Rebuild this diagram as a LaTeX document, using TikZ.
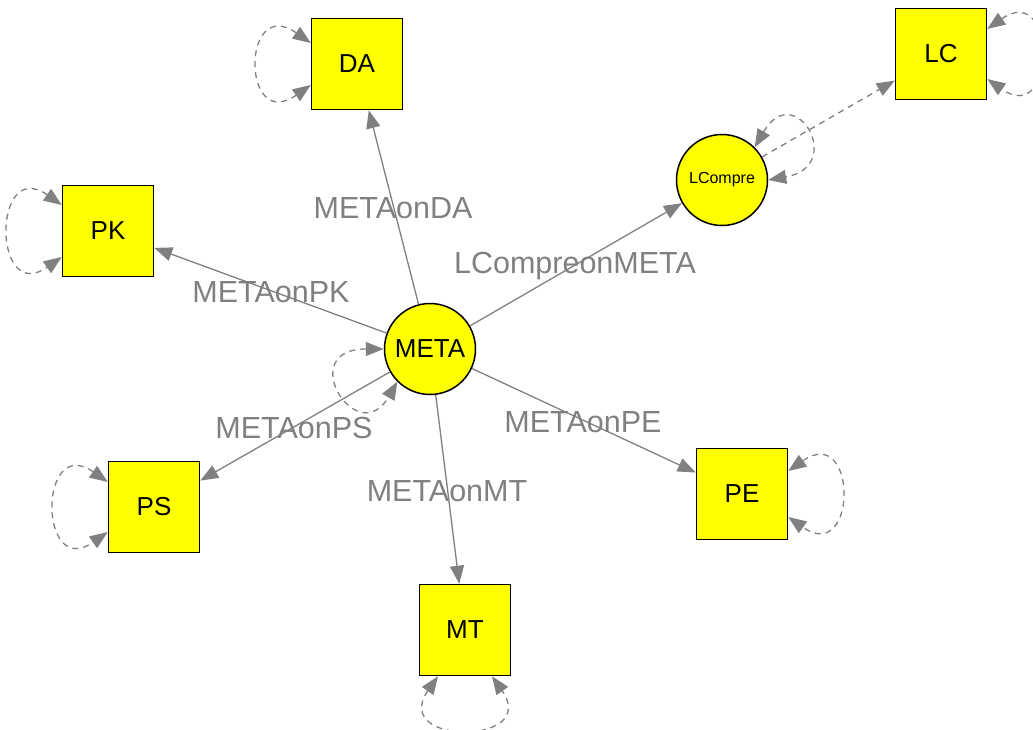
\documentclass[tikz,border=0pt]{standalone}
\usepackage{fontspec}
\setmainfont{Liberation Sans}
\usetikzlibrary{arrows.meta}
\definecolor{edgegray}{RGB}{128,128,128}
\definecolor{nodeyellow}{RGB}{255,255,0}
\begin{document}
\begin{tikzpicture}[x=1pt, y=-1pt, >={Triangle[length=18pt,width=14pt]},
    box/.style={draw, line width=1.5pt, fill=nodeyellow, minimum size=91pt, inner sep=0pt, font=\fontsize{26}{30}\selectfont},
    ball/.style={draw, circle, line width=1.5pt, fill=nodeyellow, minimum size=91pt, inner sep=0pt, font=\fontsize{26}{30}\selectfont},
    lbl/.style={anchor=base, inner sep=0pt, text=edgegray, font=\fontsize{30.5}{34}\selectfont},
    link/.style={->, draw=edgegray, line width=1.3pt},
    selfloop/.style={<->, draw=edgegray, line width=1.3pt, dash pattern=on 6pt off 5pt}]
          \useasboundingbox (0,0) rectangle (1033,729);
          \node [ball] (META) at (430,349) {META};
          \node [ball, font=\fontsize{16}{19}\selectfont] (LCompre) at (722,180) {LCompre};
          \node [box] (DA) at (357,64) {DA};
          \node [box] (LC) at (941,54) {LC};
          \node [box] (PK) at (108,231) {PK};
          \node [box] (PS) at (154,507) {PS};
          \node [box] (PE) at (742,494) {PE};
          \node [box] (MT) at (465,630) {MT};
          \draw [link] (META) -- (DA);
          \draw [link] (META) -- (PK);
          \draw [link] (META) -- (PS);
          \draw [link] (META) -- (MT);
          \draw [link] (META) -- (PE);
          \draw [link] (META) -- (LCompre);
          \draw [link, dash pattern=on 6pt off 5pt] (LCompre) -- (LC);
          \node [lbl] (lDA) at (393,218) {METAonDA};
          \node [lbl] (lPK) at (271,302) {METAonPK};
          \node [lbl] (lPS) at (294,438) {METAonPS};
          \node [lbl] (lMT) at (447,501) {METAonMT};
          \node [lbl] (lPE) at (583,432) {METAonPE};
          \node [lbl] (lLCompre) at (575,273) {LCompreonMETA};
          % self loops
          \draw [selfloop] ([yshift=21pt]DA.west) .. controls +(145:85pt) and +(215:85pt) .. ([yshift=-21pt]DA.west);
          \draw [selfloop] ([yshift=26pt]PK.west) .. controls +(145:85pt) and +(215:85pt) .. ([yshift=-26pt]PK.west);
          \draw [selfloop] ([yshift=25pt]PS.west) .. controls +(145:85pt) and +(215:85pt) .. ([yshift=-25pt]PS.west);
          \draw [selfloop] ([yshift=23pt]PE.east) .. controls +(35:85pt) and +(-35:85pt) .. ([yshift=-23pt]PE.east);
          \draw [selfloop] ([yshift=25pt]LC.east) .. controls +(35:85pt) and +(-35:85pt) .. ([yshift=-25pt]LC.east);
          \draw [selfloop] ([xshift=-27pt]MT.south) .. controls +(235:85pt) and +(305:85pt) .. ([xshift=27pt]MT.south);
          \draw [selfloop] (META.180) .. controls +(180:90pt) and +(240:80pt) .. (META.225);
          \draw [selfloop] (LCompre.45) .. controls +(60:80pt) and +(10:80pt) .. (LCompre.0);
        \end{tikzpicture}
\end{document}
